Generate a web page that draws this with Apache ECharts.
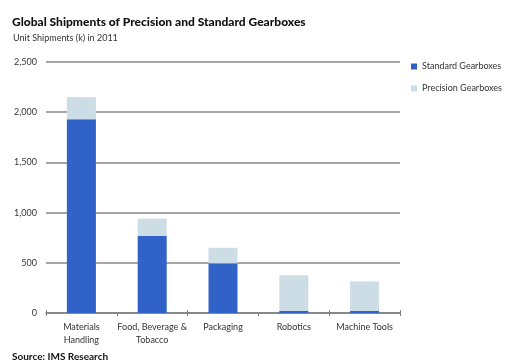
<!DOCTYPE html>
<html><head><meta charset="utf-8">
<script src="https://cdn.jsdelivr.net/npm/echarts@6/dist/echarts.min.js"></script>
<style>html,body{margin:0;padding:0;background:#fff}#c{width:517px;height:362px}</style>
</head><body><div id="c"></div>
<script>
const categories = ["Materials\nHandling", "Food, Beverage &\nTobacco", "Packaging", "Robotics", "Machine Tools"];
const standard = [1930, 770, 495, 20, 20];
const precision = [220, 170, 155, 355, 295];
const seriesNames = ["Standard Gearboxes", "Precision Gearboxes"];
const FONT = "Lato, 'Open Sans', sans-serif";
const chart = echarts.init(document.getElementById('c'));
chart.setOption({
  animation: false,
  backgroundColor: '#fff',
  title: [
    {text: 'Global Shipments of Precision and Standard Gearboxes', left: 7, top: 11,
     textStyle: {fontFamily: FONT, fontSize: 12, fontWeight: 900, color: '#111'}},
    {text: 'Unit Shipments (k) in 2011', left: 8, top: 29,
     textStyle: {fontFamily: FONT, fontSize: 9, fontWeight: 'normal', color: '#333'}},
    {text: 'Source: IMS Research', left: 7, top: 347,
     textStyle: {fontFamily: FONT, fontSize: 10, fontWeight: 'bold', color: '#111'}}
  ],
  legend: {
    orient: 'vertical', left: 406, top: 57, itemGap: 13, itemWidth: 6, itemHeight: 6,
    icon: 'rect',
    textStyle: {fontFamily: FONT, fontSize: 9, color: '#333'},
    data: seriesNames
  },
  grid: {left: 46, right: 117, top: 62, bottom: 49},
  xAxis: [{
    type: 'category', data: categories,
    axisLine: {lineStyle: {color: '#808080', width: 1.5}},
    axisTick: {show: true, length: 3, lineStyle: {color: '#808080'}},
    axisLabel: {fontFamily: FONT, fontSize: 9, color: '#333', margin: 8, lineHeight: 13, interval: 0}
  }, {
    type: 'category', data: categories, position: 'bottom',
    axisLine: {show: false},
    axisTick: {show: true, inside: true, length: 3, lineStyle: {color: '#808080'}},
    axisLabel: {show: false}
  }],
  yAxis: {
    type: 'value', min: 0, max: 2500, interval: 500,
    axisLine: {show: false}, axisTick: {show: false},
    splitLine: {lineStyle: {color: '#888', width: 1.5}},
    axisLabel: {fontFamily: FONT, fontSize: 9, color: '#333', margin: 9,
      formatter: v => v.toLocaleString('en-US')}
  },
  series: [
    {name: seriesNames[0], type: 'bar', stack: 's', data: standard, barWidth: '41%',
     itemStyle: {color: '#3062C8'}},
    {name: seriesNames[1], type: 'bar', stack: 's', data: precision, barWidth: '41%',
     itemStyle: {color: '#CDDDE6'}}
  ]
});
</script></body></html>
